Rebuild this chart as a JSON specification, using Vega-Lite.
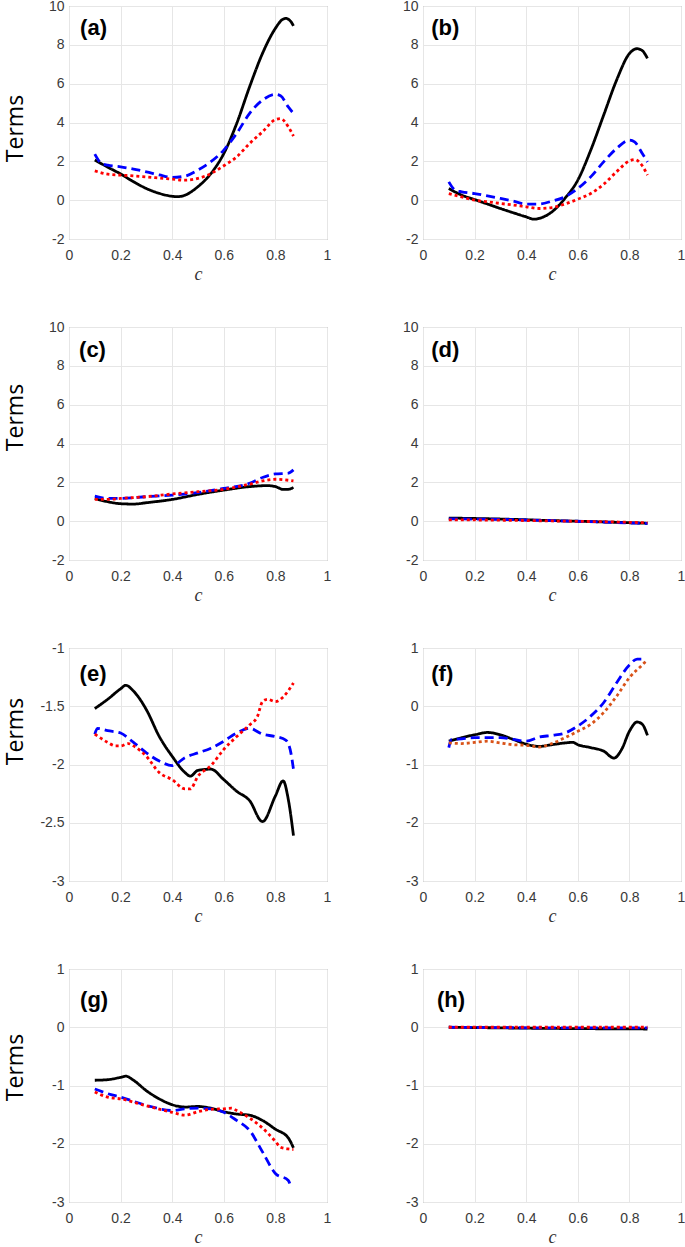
{
"$schema":"https://vega.github.io/schema/vega-lite/v6.json",
"padding":{"left":3,"top":-2,"right":0,"bottom":0},
"datasets":{"curves":[
{"p":"a","s":"S1","c":0.1,"v":2.07},{"p":"a","s":"S1","c":0.15,"v":1.7},{"p":"a","s":"S1","c":0.2,"v":1.35},{"p":"a","s":"S1","c":0.25,"v":0.95},{"p":"a","s":"S1","c":0.3,"v":0.6},{"p":"a","s":"S1","c":0.35,"v":0.35},{"p":"a","s":"S1","c":0.4,"v":0.2},{"p":"a","s":"S1","c":0.42,"v":0.18},{"p":"a","s":"S1","c":0.45,"v":0.26},{"p":"a","s":"S1","c":0.5,"v":0.7},{"p":"a","s":"S1","c":0.55,"v":1.37},{"p":"a","s":"S1","c":0.6,"v":2.4},{"p":"a","s":"S1","c":0.65,"v":3.95},{"p":"a","s":"S1","c":0.7,"v":5.84},{"p":"a","s":"S1","c":0.75,"v":7.56},{"p":"a","s":"S1","c":0.8,"v":8.85},{"p":"a","s":"S1","c":0.825,"v":9.28},{"p":"a","s":"S1","c":0.84,"v":9.36},{"p":"a","s":"S1","c":0.86,"v":9.2},{"p":"a","s":"S1","c":0.87,"v":8.97},
{"p":"a","s":"S2","c":0.1,"v":2.37},{"p":"a","s":"S2","c":0.125,"v":1.9},{"p":"a","s":"S2","c":0.15,"v":1.8},{"p":"a","s":"S2","c":0.2,"v":1.72},{"p":"a","s":"S2","c":0.25,"v":1.6},{"p":"a","s":"S2","c":0.3,"v":1.46},{"p":"a","s":"S2","c":0.35,"v":1.3},{"p":"a","s":"S2","c":0.4,"v":1.17},{"p":"a","s":"S2","c":0.45,"v":1.24},{"p":"a","s":"S2","c":0.5,"v":1.55},{"p":"a","s":"S2","c":0.55,"v":1.98},{"p":"a","s":"S2","c":0.6,"v":2.58},{"p":"a","s":"S2","c":0.65,"v":3.44},{"p":"a","s":"S2","c":0.7,"v":4.47},{"p":"a","s":"S2","c":0.75,"v":5.15},{"p":"a","s":"S2","c":0.8,"v":5.45},{"p":"a","s":"S2","c":0.82,"v":5.38},{"p":"a","s":"S2","c":0.85,"v":4.8},{"p":"a","s":"S2","c":0.87,"v":4.47},
{"p":"a","s":"S3","c":0.1,"v":1.51},{"p":"a","s":"S3","c":0.15,"v":1.34},{"p":"a","s":"S3","c":0.2,"v":1.29},{"p":"a","s":"S3","c":0.25,"v":1.25},{"p":"a","s":"S3","c":0.3,"v":1.2},{"p":"a","s":"S3","c":0.35,"v":1.14},{"p":"a","s":"S3","c":0.4,"v":1.08},{"p":"a","s":"S3","c":0.45,"v":1.03},{"p":"a","s":"S3","c":0.5,"v":1.12},{"p":"a","s":"S3","c":0.55,"v":1.37},{"p":"a","s":"S3","c":0.6,"v":1.77},{"p":"a","s":"S3","c":0.65,"v":2.23},{"p":"a","s":"S3","c":0.7,"v":2.92},{"p":"a","s":"S3","c":0.75,"v":3.52},{"p":"a","s":"S3","c":0.8,"v":4.15},{"p":"a","s":"S3","c":0.82,"v":4.2},{"p":"a","s":"S3","c":0.85,"v":3.78},{"p":"a","s":"S3","c":0.87,"v":3.3},
{"p":"b","s":"S1","c":0.1,"v":0.6},{"p":"b","s":"S1","c":0.15,"v":0.26},{"p":"b","s":"S1","c":0.2,"v":0.03},{"p":"b","s":"S1","c":0.25,"v":-0.2},{"p":"b","s":"S1","c":0.3,"v":-0.43},{"p":"b","s":"S1","c":0.35,"v":-0.65},{"p":"b","s":"S1","c":0.4,"v":-0.86},{"p":"b","s":"S1","c":0.43,"v":-0.98},{"p":"b","s":"S1","c":0.45,"v":-0.94},{"p":"b","s":"S1","c":0.5,"v":-0.6},{"p":"b","s":"S1","c":0.55,"v":0.09},{"p":"b","s":"S1","c":0.6,"v":1.03},{"p":"b","s":"S1","c":0.65,"v":2.57},{"p":"b","s":"S1","c":0.7,"v":4.37},{"p":"b","s":"S1","c":0.75,"v":6.17},{"p":"b","s":"S1","c":0.8,"v":7.55},{"p":"b","s":"S1","c":0.83,"v":7.8},{"p":"b","s":"S1","c":0.85,"v":7.7},{"p":"b","s":"S1","c":0.87,"v":7.3},
{"p":"b","s":"S2","c":0.1,"v":0.94},{"p":"b","s":"S2","c":0.125,"v":0.51},{"p":"b","s":"S2","c":0.15,"v":0.43},{"p":"b","s":"S2","c":0.2,"v":0.34},{"p":"b","s":"S2","c":0.25,"v":0.22},{"p":"b","s":"S2","c":0.3,"v":0.09},{"p":"b","s":"S2","c":0.35,"v":-0.05},{"p":"b","s":"S2","c":0.4,"v":-0.2},{"p":"b","s":"S2","c":0.45,"v":-0.2},{"p":"b","s":"S2","c":0.5,"v":-0.05},{"p":"b","s":"S2","c":0.55,"v":0.17},{"p":"b","s":"S2","c":0.6,"v":0.6},{"p":"b","s":"S2","c":0.65,"v":1.2},{"p":"b","s":"S2","c":0.7,"v":1.97},{"p":"b","s":"S2","c":0.75,"v":2.66},{"p":"b","s":"S2","c":0.8,"v":3.09},{"p":"b","s":"S2","c":0.82,"v":3.0},{"p":"b","s":"S2","c":0.85,"v":2.4},{"p":"b","s":"S2","c":0.87,"v":1.97},
{"p":"b","s":"S3","c":0.1,"v":0.34},{"p":"b","s":"S3","c":0.15,"v":0.17},{"p":"b","s":"S3","c":0.2,"v":0.0},{"p":"b","s":"S3","c":0.25,"v":-0.08},{"p":"b","s":"S3","c":0.3,"v":-0.17},{"p":"b","s":"S3","c":0.35,"v":-0.25},{"p":"b","s":"S3","c":0.4,"v":-0.34},{"p":"b","s":"S3","c":0.45,"v":-0.43},{"p":"b","s":"S3","c":0.5,"v":-0.38},{"p":"b","s":"S3","c":0.55,"v":-0.2},{"p":"b","s":"S3","c":0.6,"v":0.05},{"p":"b","s":"S3","c":0.65,"v":0.34},{"p":"b","s":"S3","c":0.7,"v":0.82},{"p":"b","s":"S3","c":0.75,"v":1.46},{"p":"b","s":"S3","c":0.8,"v":2.02},{"p":"b","s":"S3","c":0.82,"v":2.09},{"p":"b","s":"S3","c":0.85,"v":1.77},{"p":"b","s":"S3","c":0.87,"v":1.29},
{"p":"c","s":"S1","c":0.1,"v":1.17},{"p":"c","s":"S1","c":0.15,"v":1.0},{"p":"c","s":"S1","c":0.2,"v":0.9},{"p":"c","s":"S1","c":0.25,"v":0.88},{"p":"c","s":"S1","c":0.3,"v":0.95},{"p":"c","s":"S1","c":0.4,"v":1.12},{"p":"c","s":"S1","c":0.5,"v":1.38},{"p":"c","s":"S1","c":0.6,"v":1.6},{"p":"c","s":"S1","c":0.7,"v":1.78},{"p":"c","s":"S1","c":0.77,"v":1.83},{"p":"c","s":"S1","c":0.8,"v":1.78},{"p":"c","s":"S1","c":0.83,"v":1.64},{"p":"c","s":"S1","c":0.85,"v":1.64},{"p":"c","s":"S1","c":0.87,"v":1.74},
{"p":"c","s":"S2","c":0.1,"v":1.29},{"p":"c","s":"S2","c":0.15,"v":1.17},{"p":"c","s":"S2","c":0.2,"v":1.17},{"p":"c","s":"S2","c":0.3,"v":1.26},{"p":"c","s":"S2","c":0.4,"v":1.34},{"p":"c","s":"S2","c":0.5,"v":1.47},{"p":"c","s":"S2","c":0.6,"v":1.69},{"p":"c","s":"S2","c":0.7,"v":1.95},{"p":"c","s":"S2","c":0.75,"v":2.25},{"p":"c","s":"S2","c":0.8,"v":2.43},{"p":"c","s":"S2","c":0.85,"v":2.47},{"p":"c","s":"S2","c":0.87,"v":2.64},
{"p":"c","s":"S3","c":0.1,"v":1.12},{"p":"c","s":"S3","c":0.15,"v":1.12},{"p":"c","s":"S3","c":0.2,"v":1.17},{"p":"c","s":"S3","c":0.3,"v":1.26},{"p":"c","s":"S3","c":0.4,"v":1.4},{"p":"c","s":"S3","c":0.5,"v":1.52},{"p":"c","s":"S3","c":0.6,"v":1.64},{"p":"c","s":"S3","c":0.7,"v":1.91},{"p":"c","s":"S3","c":0.75,"v":2.07},{"p":"c","s":"S3","c":0.8,"v":2.16},{"p":"c","s":"S3","c":0.87,"v":2.07},
{"p":"d","s":"S1","c":0.1,"v":0.16},{"p":"d","s":"S1","c":0.3,"v":0.11},{"p":"d","s":"S1","c":0.5,"v":0.03},{"p":"d","s":"S1","c":0.7,"v":-0.04},{"p":"d","s":"S1","c":0.87,"v":-0.11},
{"p":"d","s":"S2","c":0.1,"v":0.12},{"p":"d","s":"S2","c":0.3,"v":0.09},{"p":"d","s":"S2","c":0.5,"v":0.03},{"p":"d","s":"S2","c":0.7,"v":-0.05},{"p":"d","s":"S2","c":0.87,"v":-0.12},
{"p":"d","s":"S3","c":0.1,"v":0.07},{"p":"d","s":"S3","c":0.3,"v":0.05},{"p":"d","s":"S3","c":0.5,"v":0.01},{"p":"d","s":"S3","c":0.7,"v":-0.03},{"p":"d","s":"S3","c":0.87,"v":-0.08},
{"p":"e","s":"S1","c":0.1,"v":-1.52},{"p":"e","s":"S1","c":0.15,"v":-1.44},{"p":"e","s":"S1","c":0.2,"v":-1.35},{"p":"e","s":"S1","c":0.22,"v":-1.32},{"p":"e","s":"S1","c":0.25,"v":-1.37},{"p":"e","s":"S1","c":0.3,"v":-1.53},{"p":"e","s":"S1","c":0.35,"v":-1.76},{"p":"e","s":"S1","c":0.4,"v":-1.93},{"p":"e","s":"S1","c":0.45,"v":-2.07},{"p":"e","s":"S1","c":0.47,"v":-2.1},{"p":"e","s":"S1","c":0.5,"v":-2.05},{"p":"e","s":"S1","c":0.55,"v":-2.04},{"p":"e","s":"S1","c":0.6,"v":-2.13},{"p":"e","s":"S1","c":0.65,"v":-2.23},{"p":"e","s":"S1","c":0.7,"v":-2.31},{"p":"e","s":"S1","c":0.75,"v":-2.49},{"p":"e","s":"S1","c":0.8,"v":-2.27},{"p":"e","s":"S1","c":0.83,"v":-2.14},{"p":"e","s":"S1","c":0.85,"v":-2.3},{"p":"e","s":"S1","c":0.87,"v":-2.61},
{"p":"e","s":"S2","c":0.1,"v":-1.74},{"p":"e","s":"S2","c":0.11,"v":-1.69},{"p":"e","s":"S2","c":0.15,"v":-1.71},{"p":"e","s":"S2","c":0.2,"v":-1.73},{"p":"e","s":"S2","c":0.25,"v":-1.81},{"p":"e","s":"S2","c":0.3,"v":-1.9},{"p":"e","s":"S2","c":0.35,"v":-1.97},{"p":"e","s":"S2","c":0.4,"v":-2.01},{"p":"e","s":"S2","c":0.45,"v":-1.94},{"p":"e","s":"S2","c":0.5,"v":-1.9},{"p":"e","s":"S2","c":0.55,"v":-1.86},{"p":"e","s":"S2","c":0.6,"v":-1.8},{"p":"e","s":"S2","c":0.65,"v":-1.73},{"p":"e","s":"S2","c":0.7,"v":-1.69},{"p":"e","s":"S2","c":0.75,"v":-1.74},{"p":"e","s":"S2","c":0.8,"v":-1.76},{"p":"e","s":"S2","c":0.84,"v":-1.79},{"p":"e","s":"S2","c":0.86,"v":-1.9},{"p":"e","s":"S2","c":0.87,"v":-2.04},
{"p":"e","s":"S3","c":0.1,"v":-1.74},{"p":"e","s":"S3","c":0.15,"v":-1.81},{"p":"e","s":"S3","c":0.18,"v":-1.84},{"p":"e","s":"S3","c":0.2,"v":-1.84},{"p":"e","s":"S3","c":0.23,"v":-1.82},{"p":"e","s":"S3","c":0.25,"v":-1.84},{"p":"e","s":"S3","c":0.3,"v":-1.93},{"p":"e","s":"S3","c":0.35,"v":-2.07},{"p":"e","s":"S3","c":0.4,"v":-2.13},{"p":"e","s":"S3","c":0.45,"v":-2.21},{"p":"e","s":"S3","c":0.47,"v":-2.21},{"p":"e","s":"S3","c":0.5,"v":-2.1},{"p":"e","s":"S3","c":0.55,"v":-2.01},{"p":"e","s":"S3","c":0.6,"v":-1.87},{"p":"e","s":"S3","c":0.65,"v":-1.76},{"p":"e","s":"S3","c":0.7,"v":-1.66},{"p":"e","s":"S3","c":0.73,"v":-1.59},{"p":"e","s":"S3","c":0.75,"v":-1.46},{"p":"e","s":"S3","c":0.77,"v":-1.44},{"p":"e","s":"S3","c":0.8,"v":-1.46},{"p":"e","s":"S3","c":0.83,"v":-1.42},{"p":"e","s":"S3","c":0.87,"v":-1.3},
{"p":"f","s":"S1","c":0.1,"v":-0.6},{"p":"f","s":"S1","c":0.15,"v":-0.54},{"p":"f","s":"S1","c":0.2,"v":-0.49},{"p":"f","s":"S1","c":0.25,"v":-0.45},{"p":"f","s":"S1","c":0.3,"v":-0.49},{"p":"f","s":"S1","c":0.35,"v":-0.57},{"p":"f","s":"S1","c":0.4,"v":-0.65},{"p":"f","s":"S1","c":0.45,"v":-0.69},{"p":"f","s":"S1","c":0.5,"v":-0.66},{"p":"f","s":"S1","c":0.55,"v":-0.63},{"p":"f","s":"S1","c":0.58,"v":-0.62},{"p":"f","s":"S1","c":0.6,"v":-0.66},{"p":"f","s":"S1","c":0.65,"v":-0.71},{"p":"f","s":"S1","c":0.7,"v":-0.77},{"p":"f","s":"S1","c":0.74,"v":-0.89},{"p":"f","s":"S1","c":0.77,"v":-0.74},{"p":"f","s":"S1","c":0.8,"v":-0.43},{"p":"f","s":"S1","c":0.83,"v":-0.27},{"p":"f","s":"S1","c":0.85,"v":-0.31},{"p":"f","s":"S1","c":0.87,"v":-0.5},
{"p":"f","s":"S2","c":0.1,"v":-0.71},{"p":"f","s":"S2","c":0.11,"v":-0.57},{"p":"f","s":"S2","c":0.15,"v":-0.56},{"p":"f","s":"S2","c":0.2,"v":-0.54},{"p":"f","s":"S2","c":0.3,"v":-0.54},{"p":"f","s":"S2","c":0.35,"v":-0.57},{"p":"f","s":"S2","c":0.4,"v":-0.6},{"p":"f","s":"S2","c":0.45,"v":-0.53},{"p":"f","s":"S2","c":0.5,"v":-0.5},{"p":"f","s":"S2","c":0.55,"v":-0.46},{"p":"f","s":"S2","c":0.6,"v":-0.34},{"p":"f","s":"S2","c":0.65,"v":-0.17},{"p":"f","s":"S2","c":0.7,"v":0.06},{"p":"f","s":"S2","c":0.75,"v":0.4},{"p":"f","s":"S2","c":0.8,"v":0.71},{"p":"f","s":"S2","c":0.83,"v":0.81},{"p":"f","s":"S2","c":0.85,"v":0.81},{"p":"f","s":"S2","c":0.86,"v":0.74},
{"p":"f","s":"S3","c":0.1,"v":-0.63},{"p":"f","s":"S3","c":0.15,"v":-0.64},{"p":"f","s":"S3","c":0.2,"v":-0.62},{"p":"f","s":"S3","c":0.25,"v":-0.6},{"p":"f","s":"S3","c":0.3,"v":-0.63},{"p":"f","s":"S3","c":0.35,"v":-0.66},{"p":"f","s":"S3","c":0.4,"v":-0.67},{"p":"f","s":"S3","c":0.45,"v":-0.7},{"p":"f","s":"S3","c":0.5,"v":-0.64},{"p":"f","s":"S3","c":0.55,"v":-0.54},{"p":"f","s":"S3","c":0.6,"v":-0.43},{"p":"f","s":"S3","c":0.65,"v":-0.31},{"p":"f","s":"S3","c":0.7,"v":-0.11},{"p":"f","s":"S3","c":0.75,"v":0.17},{"p":"f","s":"S3","c":0.8,"v":0.49},{"p":"f","s":"S3","c":0.85,"v":0.71},{"p":"f","s":"S3","c":0.87,"v":0.8},
{"p":"g","s":"S1","c":0.1,"v":-0.91},{"p":"g","s":"S1","c":0.15,"v":-0.9},{"p":"g","s":"S1","c":0.2,"v":-0.86},{"p":"g","s":"S1","c":0.22,"v":-0.84},{"p":"g","s":"S1","c":0.25,"v":-0.91},{"p":"g","s":"S1","c":0.3,"v":-1.09},{"p":"g","s":"S1","c":0.35,"v":-1.23},{"p":"g","s":"S1","c":0.4,"v":-1.33},{"p":"g","s":"S1","c":0.45,"v":-1.37},{"p":"g","s":"S1","c":0.5,"v":-1.36},{"p":"g","s":"S1","c":0.55,"v":-1.39},{"p":"g","s":"S1","c":0.6,"v":-1.45},{"p":"g","s":"S1","c":0.65,"v":-1.49},{"p":"g","s":"S1","c":0.7,"v":-1.51},{"p":"g","s":"S1","c":0.75,"v":-1.6},{"p":"g","s":"S1","c":0.8,"v":-1.75},{"p":"g","s":"S1","c":0.85,"v":-1.9},{"p":"g","s":"S1","c":0.87,"v":-2.07},
{"p":"g","s":"S2","c":0.1,"v":-1.06},{"p":"g","s":"S2","c":0.15,"v":-1.14},{"p":"g","s":"S2","c":0.2,"v":-1.2},{"p":"g","s":"S2","c":0.3,"v":-1.34},{"p":"g","s":"S2","c":0.4,"v":-1.43},{"p":"g","s":"S2","c":0.45,"v":-1.4},{"p":"g","s":"S2","c":0.5,"v":-1.39},{"p":"g","s":"S2","c":0.55,"v":-1.4},{"p":"g","s":"S2","c":0.6,"v":-1.46},{"p":"g","s":"S2","c":0.65,"v":-1.6},{"p":"g","s":"S2","c":0.7,"v":-1.77},{"p":"g","s":"S2","c":0.75,"v":-2.14},{"p":"g","s":"S2","c":0.8,"v":-2.51},{"p":"g","s":"S2","c":0.85,"v":-2.63},{"p":"g","s":"S2","c":0.86,"v":-2.74},
{"p":"g","s":"S3","c":0.1,"v":-1.11},{"p":"g","s":"S3","c":0.15,"v":-1.2},{"p":"g","s":"S3","c":0.2,"v":-1.23},{"p":"g","s":"S3","c":0.3,"v":-1.35},{"p":"g","s":"S3","c":0.4,"v":-1.46},{"p":"g","s":"S3","c":0.45,"v":-1.51},{"p":"g","s":"S3","c":0.5,"v":-1.45},{"p":"g","s":"S3","c":0.55,"v":-1.41},{"p":"g","s":"S3","c":0.6,"v":-1.4},{"p":"g","s":"S3","c":0.63,"v":-1.39},{"p":"g","s":"S3","c":0.65,"v":-1.43},{"p":"g","s":"S3","c":0.7,"v":-1.56},{"p":"g","s":"S3","c":0.75,"v":-1.73},{"p":"g","s":"S3","c":0.8,"v":-1.96},{"p":"g","s":"S3","c":0.82,"v":-2.06},{"p":"g","s":"S3","c":0.85,"v":-2.09},{"p":"g","s":"S3","c":0.87,"v":-2.1},
{"p":"h","s":"S1","c":0.1,"v":0.0},{"p":"h","s":"S1","c":0.5,"v":-0.02},{"p":"h","s":"S1","c":0.87,"v":-0.03},
{"p":"h","s":"S2","c":0.1,"v":0.0},{"p":"h","s":"S2","c":0.5,"v":-0.01},{"p":"h","s":"S2","c":0.87,"v":-0.01},
{"p":"h","s":"S3","c":0.1,"v":0.0},{"p":"h","s":"S3","c":0.5,"v":0.0},{"p":"h","s":"S3","c":0.87,"v":0.0}
]},
"vconcat":[
{"hconcat":[
 {"width":258,"height":233,"layer":[
  {"data":{"name":"curves"},"transform":[{"filter":"datum.p==='a'"}],"mark":{"type":"line","strokeWidth":2.8,"interpolate":"monotone","clip":true},
   "encoding":{"x":{"field":"c","type":"quantitative","scale":{"domain":[0,1],"nice":false},"axis":{"values":[0,0.2,0.4,0.6,0.8,1],"format":"~f","title":"c"}},
   "y":{"field":"v","type":"quantitative","scale":{"domain":[-2,10],"nice":false,"zero":false},"axis":{"values":[-2,0,2,4,6,8,10],"format":"~f","title":"Terms","titleY":122}},
   "color":{"field":"s","type":"nominal","scale":{"domain":["S1","S2","S3"],"range":["#000000","#0000ff","#ff0000"]},"legend":null},
   "strokeDash":{"field":"s","type":"nominal","scale":{"domain":["S1","S2","S3"],"range":[[1,0],[9,5],[3,3]]},"legend":null}}},
  {"data":{"values":[{}]},"mark":{"type":"text","font":"Liberation Sans","fontWeight":"bold","fontSize":22,"align":"left","baseline":"middle"},"encoding":{"x":{"datum":0.043},"y":{"datum":8.87},"text":{"value":"(a)"}}}
 ]},
 {"width":258,"height":233,"layer":[
  {"data":{"name":"curves"},"transform":[{"filter":"datum.p==='b'"}],"mark":{"type":"line","strokeWidth":2.8,"interpolate":"monotone","clip":true},
   "encoding":{"x":{"field":"c","type":"quantitative","scale":{"domain":[0,1],"nice":false},"axis":{"values":[0,0.2,0.4,0.6,0.8,1],"format":"~f","title":"c"}},
   "y":{"field":"v","type":"quantitative","scale":{"domain":[-2,10],"nice":false,"zero":false},"axis":{"values":[-2,0,2,4,6,8,10],"format":"~f","title":null}},
   "color":{"field":"s","type":"nominal","scale":{"domain":["S1","S2","S3"],"range":["#000000","#0000ff","#ff0000"]},"legend":null},
   "strokeDash":{"field":"s","type":"nominal","scale":{"domain":["S1","S2","S3"],"range":[[1,0],[9,5],[3,3]]},"legend":null}}},
  {"data":{"values":[{}]},"mark":{"type":"text","font":"Liberation Sans","fontWeight":"bold","fontSize":22,"align":"left","baseline":"middle"},"encoding":{"x":{"datum":0.032},"y":{"datum":8.87},"text":{"value":"(b)"}}}
 ]}
],"spacing":96,"bounds":"flush","resolve":{"scale":{"color":"independent","strokeDash":"independent"}}},
{"hconcat":[
 {"width":258,"height":233,"layer":[
  {"data":{"name":"curves"},"transform":[{"filter":"datum.p==='c'"}],"mark":{"type":"line","strokeWidth":2.8,"interpolate":"monotone","clip":true},
   "encoding":{"x":{"field":"c","type":"quantitative","scale":{"domain":[0,1],"nice":false},"axis":{"values":[0,0.2,0.4,0.6,0.8,1],"format":"~f","title":"c"}},
   "y":{"field":"v","type":"quantitative","scale":{"domain":[-2,10],"nice":false,"zero":false},"axis":{"values":[-2,0,2,4,6,8,10],"format":"~f","title":"Terms","titleY":90}},
   "color":{"field":"s","type":"nominal","scale":{"domain":["S1","S2","S3"],"range":["#000000","#0000ff","#ff0000"]},"legend":null},
   "strokeDash":{"field":"s","type":"nominal","scale":{"domain":["S1","S2","S3"],"range":[[1,0],[9,5],[3,3]]},"legend":null}}},
  {"data":{"values":[{}]},"mark":{"type":"text","font":"Liberation Sans","fontWeight":"bold","fontSize":22,"align":"left","baseline":"middle"},"encoding":{"x":{"datum":0.039},"y":{"datum":8.84},"text":{"value":"(c)"}}}
 ]},
 {"width":258,"height":233,"layer":[
  {"data":{"name":"curves"},"transform":[{"filter":"datum.p==='d'"}],"mark":{"type":"line","strokeWidth":2.8,"interpolate":"monotone","clip":true},
   "encoding":{"x":{"field":"c","type":"quantitative","scale":{"domain":[0,1],"nice":false},"axis":{"values":[0,0.2,0.4,0.6,0.8,1],"format":"~f","title":"c"}},
   "y":{"field":"v","type":"quantitative","scale":{"domain":[-2,10],"nice":false,"zero":false},"axis":{"values":[-2,0,2,4,6,8,10],"format":"~f","title":null}},
   "color":{"field":"s","type":"nominal","scale":{"domain":["S1","S2","S3"],"range":["#000000","#0000ff","#ff0000"]},"legend":null},
   "strokeDash":{"field":"s","type":"nominal","scale":{"domain":["S1","S2","S3"],"range":[[1,0],[9,5],[3,3]]},"legend":null}}},
  {"data":{"values":[{}]},"mark":{"type":"text","font":"Liberation Sans","fontWeight":"bold","fontSize":22,"align":"left","baseline":"middle"},"encoding":{"x":{"datum":0.032},"y":{"datum":8.84},"text":{"value":"(d)"}}}
 ]}
],"spacing":96,"bounds":"flush","resolve":{"scale":{"color":"independent","strokeDash":"independent"}}},
{"hconcat":[
 {"width":258,"height":233,"layer":[
  {"data":{"name":"curves"},"transform":[{"filter":"datum.p==='e'"}],"mark":{"type":"line","strokeWidth":2.8,"interpolate":"monotone","clip":true},
   "encoding":{"x":{"field":"c","type":"quantitative","scale":{"domain":[0,1],"nice":false},"axis":{"values":[0,0.2,0.4,0.6,0.8,1],"format":"~f","title":"c"}},
   "y":{"field":"v","type":"quantitative","scale":{"domain":[-3,-1],"nice":false,"zero":false},"axis":{"values":[-3,-2.5,-2,-1.5,-1],"format":"~f","title":"Terms","titleY":83}},
   "color":{"field":"s","type":"nominal","scale":{"domain":["S1","S2","S3"],"range":["#000000","#0000ff","#ff0000"]},"legend":null},
   "strokeDash":{"field":"s","type":"nominal","scale":{"domain":["S1","S2","S3"],"range":[[1,0],[9,5],[3,3]]},"legend":null}}},
  {"data":{"values":[{}]},"mark":{"type":"text","font":"Liberation Sans","fontWeight":"bold","fontSize":22,"align":"left","baseline":"middle"},"encoding":{"x":{"datum":0.041},"y":{"datum":-1.22},"text":{"value":"(e)"}}}
 ]},
 {"width":258,"height":233,"layer":[
  {"data":{"name":"curves"},"transform":[{"filter":"datum.p==='f'"}],"mark":{"type":"line","strokeWidth":2.8,"interpolate":"monotone","clip":true},
   "encoding":{"x":{"field":"c","type":"quantitative","scale":{"domain":[0,1],"nice":false},"axis":{"values":[0,0.2,0.4,0.6,0.8,1],"format":"~f","title":"c"}},
   "y":{"field":"v","type":"quantitative","scale":{"domain":[-3,1],"nice":false,"zero":false},"axis":{"values":[-3,-2,-1,0,1],"format":"~f","title":null}},
   "color":{"field":"s","type":"nominal","scale":{"domain":["S1","S2","S3"],"range":["#000000","#0000ff","#d95319"]},"legend":null},
   "strokeDash":{"field":"s","type":"nominal","scale":{"domain":["S1","S2","S3"],"range":[[1,0],[9,5],[3,3]]},"legend":null}}},
  {"data":{"values":[{}]},"mark":{"type":"text","font":"Liberation Sans","fontWeight":"bold","fontSize":22,"align":"left","baseline":"middle"},"encoding":{"x":{"datum":0.032},"y":{"datum":0.55},"text":{"value":"(f)"}}}
 ]}
],"spacing":96,"bounds":"flush","resolve":{"scale":{"color":"independent","strokeDash":"independent"}}},
{"hconcat":[
 {"width":258,"height":233,"layer":[
  {"data":{"name":"curves"},"transform":[{"filter":"datum.p==='g'"}],"mark":{"type":"line","strokeWidth":2.8,"interpolate":"monotone","clip":true},
   "encoding":{"x":{"field":"c","type":"quantitative","scale":{"domain":[0,1],"nice":false},"axis":{"values":[0,0.2,0.4,0.6,0.8,1],"format":"~f","title":"c"}},
   "y":{"field":"v","type":"quantitative","scale":{"domain":[-3,1],"nice":false,"zero":false},"axis":{"values":[-3,-2,-1,0,1],"format":"~f","title":"Terms","titleY":98}},
   "color":{"field":"s","type":"nominal","scale":{"domain":["S1","S2","S3"],"range":["#000000","#0000ff","#ff0000"]},"legend":null},
   "strokeDash":{"field":"s","type":"nominal","scale":{"domain":["S1","S2","S3"],"range":[[1,0],[9,5],[3,3]]},"legend":null}}},
  {"data":{"values":[{}]},"mark":{"type":"text","font":"Liberation Sans","fontWeight":"bold","fontSize":22,"align":"left","baseline":"middle"},"encoding":{"x":{"datum":0.043},"y":{"datum":0.47},"text":{"value":"(g)"}}}
 ]},
 {"width":258,"height":233,"layer":[
  {"data":{"name":"curves"},"transform":[{"filter":"datum.p==='h'"}],"mark":{"type":"line","strokeWidth":2.8,"interpolate":"monotone","clip":true},
   "encoding":{"x":{"field":"c","type":"quantitative","scale":{"domain":[0,1],"nice":false},"axis":{"values":[0,0.2,0.4,0.6,0.8,1],"format":"~f","title":"c"}},
   "y":{"field":"v","type":"quantitative","scale":{"domain":[-3,1],"nice":false,"zero":false},"axis":{"values":[-3,-2,-1,0,1],"format":"~f","title":null}},
   "color":{"field":"s","type":"nominal","scale":{"domain":["S1","S2","S3"],"range":["#000000","#0000ff","#ff0000"]},"legend":null},
   "strokeDash":{"field":"s","type":"nominal","scale":{"domain":["S1","S2","S3"],"range":[[1,0],[9,5],[3,3]]},"legend":null}}},
  {"data":{"values":[{}]},"mark":{"type":"text","font":"Liberation Sans","fontWeight":"bold","fontSize":22,"align":"left","baseline":"middle"},"encoding":{"x":{"datum":0.054},"y":{"datum":0.47},"text":{"value":"(h)"}}}
 ]}
],"spacing":96,"bounds":"flush","resolve":{"scale":{"color":"independent","strokeDash":"independent"}}}
],
"spacing":321,"bounds":"flush","resolve":{"scale":{"color":"independent","strokeDash":"independent"}},
"config":{
 "locale":{"number":{"decimal":".","thousands":",","grouping":[3],"currency":["$",""],"minus":"-"}},
 "view":{"stroke":"#8c8c8c","strokeWidth":1},
 "axis":{"labelFont":"Liberation Sans","labelFontSize":14,"labelColor":"#3a3a3a","ticks":false,"domain":false,"grid":true,"gridColor":"#e6e6e6","gridWidth":1,"labelPadding":5,"labelOverlap":false,"labelFlush":false,"tickCount":20},
 "axisX":{"labelPadding":9,"titleFont":"Liberation Serif","titleFontStyle":"italic","titleFontWeight":"normal","titleFontSize":18,"titleColor":"#333333","titleY":40,"titleBaseline":"alphabetic"},
 "axisY":{"titleFont":"Open Sans","titleFontSize":23,"titleFontWeight":"normal","titleColor":"#000000","titleX":-47,"titleBaseline":"alphabetic"}
}
}
